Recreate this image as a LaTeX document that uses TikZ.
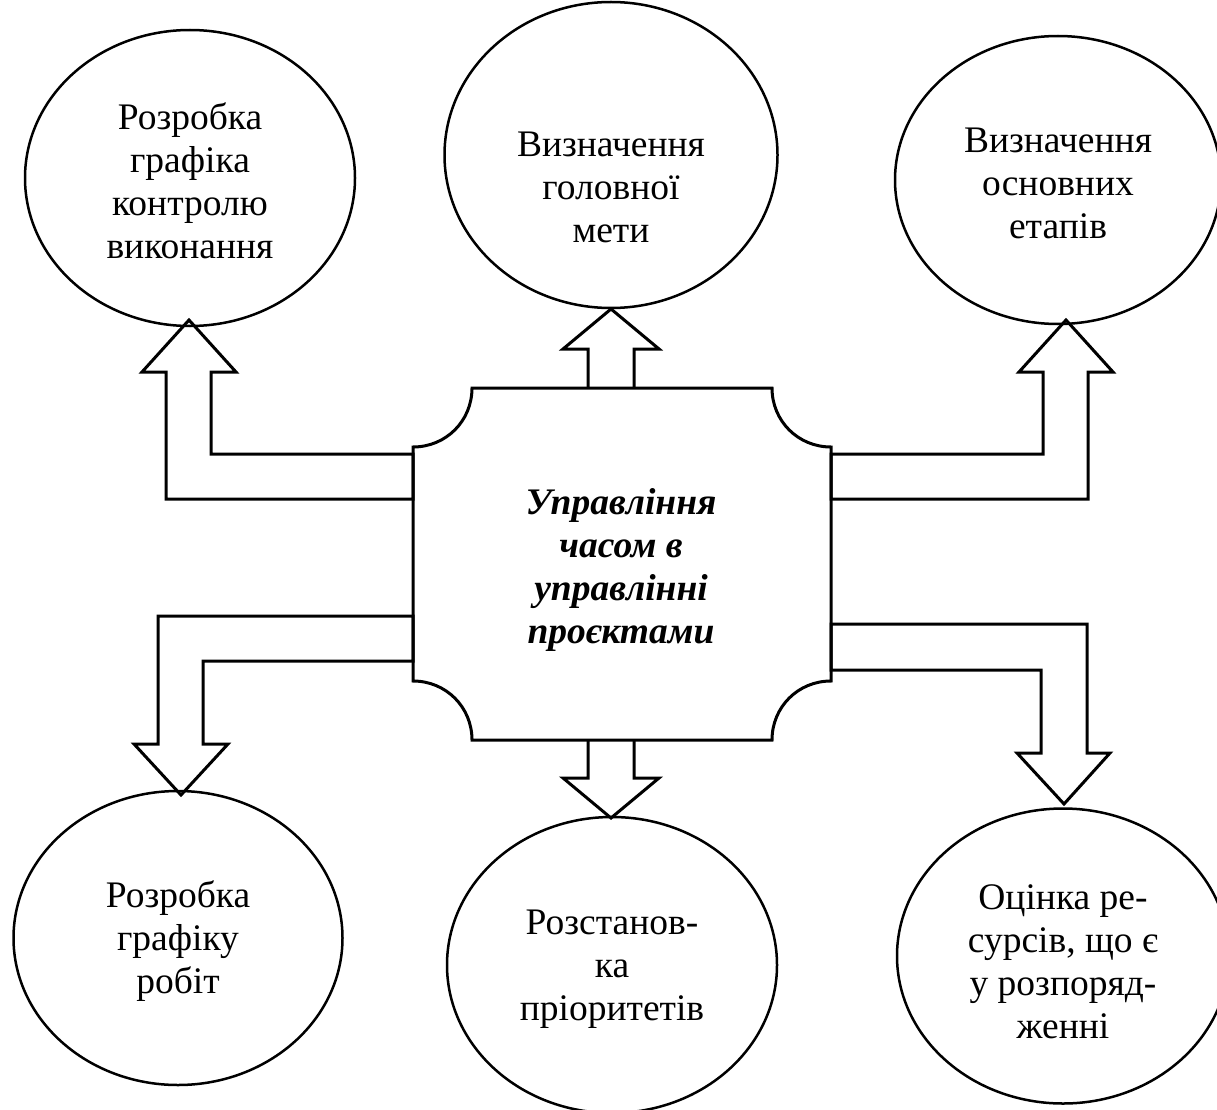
\documentclass[tikz,border=0pt]{standalone}
\usepackage{fontspec}
\setmainfont{Liberation Serif}
\usetikzlibrary{shapes.geometric}

\begin{document}
\begin{tikzpicture}[x=1pt, y=-1pt,
  etap/.style={ellipse, draw, line width=2.5pt, inner sep=0pt},
  napys/.style={align=center, font=\fontsize{37.5}{43}\selectfont},
  strilka/.style={draw, line width=3pt, line join=miter}]
\useasboundingbox (0,0) rectangle (1217,1110);
% ellipses
\foreach \n/\cx/\cy/\w/\h in {1/190/178/330/296, 2/611/155/333/306, 3/1058/180/326/288,
  4/178/938/329/294, 5/612/965/330/296, 6/1063/956/332/295}
  \node[etap, minimum width=\w pt, minimum height=\h pt] (e\n) at (\cx,\cy) {};
\node[napys] (t1) at (190,181) {Розробка\\графіка\\контролю\\виконання};
\node[napys] (t2) at (611,187) {Визначення\\головної\\мети};
\node[napys] (t3) at (1058,183) {Визначення\\основних\\етапів};
\node[napys] (t4) at (178,941) {Розробка\\графіку\\робіт};
\node[napys] (t5) at (612,969) {Розстанов-\\ка\\пріоритетів};
\node[napys] (t6) at (1063,962) {Оцінка ре-\\сурсів, що є\\у розпоряд-\\женні};
% central block
\draw[strilka] (472,388) -- (772,388) .. controls (772,421) and (798,447) .. (831,447)
  -- (831,681) .. controls (798,681) and (772,707) .. (772,740)
  -- (472,740) .. controls (472,707) and (446,681) .. (413,681)
  -- (413,447) .. controls (446,447) and (472,421) .. (472,388) -- cycle;
\node[napys, font=\fontsize{37.5}{43}\selectfont\bfseries\itshape] (tsentr) at (621,570)
  {Управління\\часом в\\управлінні\\проєктами};
% arrows
\draw[strilka] (413,454) -- (211,454) -- (211,372) -- (236,372) -- (189,320) -- (142,372)
  -- (166,372) -- (166,499) -- (413,499) -- cycle;
\draw[strilka] (588,388) -- (588,349) -- (563,349) -- (611,309) -- (659,349) -- (634,349)
  -- (634,388);
\draw[strilka] (831,454) -- (1043,454) -- (1043,372) -- (1019,372) -- (1066,320) -- (1113,372)
  -- (1088,372) -- (1088,499) -- (831,499) -- cycle;
\draw[strilka] (413,616) -- (158,616) -- (158,744) -- (134,744) -- (181,795) -- (228,744)
  -- (203,744) -- (203,661) -- (413,661) -- cycle;
\draw[strilka] (588,740) -- (588,778) -- (563,778) -- (611,818) -- (659,778) -- (634,778)
  -- (634,740);
\draw[strilka] (831,624) -- (1087,624) -- (1087,753) -- (1110,753) -- (1064,804) -- (1017,753)
  -- (1041,753) -- (1041,670) -- (831,670) -- cycle;
\end{tikzpicture}
\end{document}
